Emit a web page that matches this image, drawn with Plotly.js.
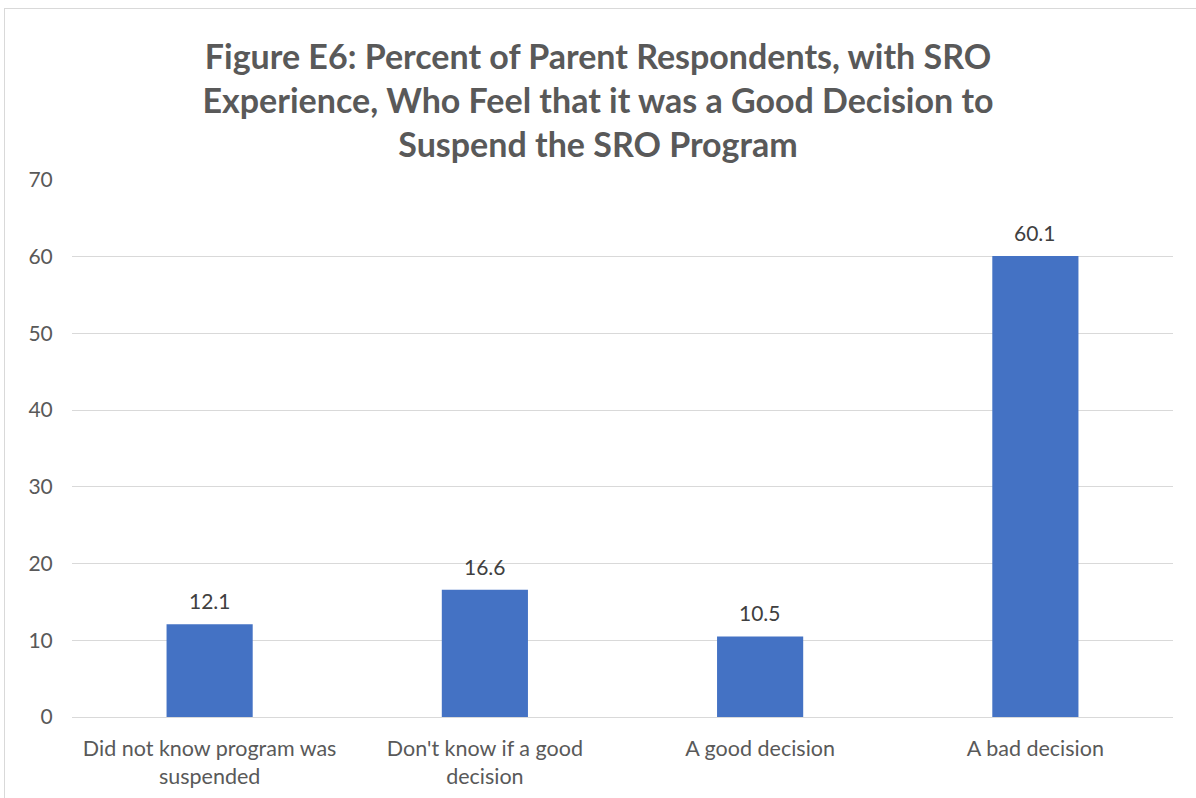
<!DOCTYPE html>
<html><head><meta charset="utf-8">
<script src="https://cdn.plot.ly/plotly-3.0.1.min.js"></script>
<style>
html,body{margin:0;padding:0;background:#fff;}
#frame{position:absolute;left:4px;top:8px;width:1300px;height:900px;border:1px solid #d9d9d9;box-sizing:border-box;pointer-events:none;}
#chart{position:absolute;left:0;top:0;width:1196px;height:798px;}
</style></head>
<body>
<div id="chart"></div>
<div id="frame"></div>
<script>
const categories = ["Did not know program was<br>suspended", "Don't know if a good<br>decision", "A good decision", "A bad decision"];
const values = [12.1, 16.6, 10.5, 60.1];
const valueLabels = ["12.1", "16.6", "10.5", "60.1"];
const yTicks = [0, 10, 20, 30, 40, 50, 60, 70];

const font = "Lato, 'Open Sans', sans-serif";
const labelAnnotations = categories.map((c, i) => ({
  x: c, y: values[i], xref: 'x', yref: 'y',
  text: valueLabels[i], showarrow: false,
  yanchor: 'bottom', yshift: 9,
  font: {family: font, size: 21, color: '#404040'}
}));

Plotly.newPlot('chart', [{
  type: 'bar',
  x: categories,
  y: values,
  marker: {color: '#4472C4'},
  hoverinfo: 'skip'
}], {
  width: 1196, height: 798,
  margin: {l: 72, r: 23, t: 180, b: 81},
  paper_bgcolor: '#fff', plot_bgcolor: '#fff',
  bargap: 0.687,
  showlegend: false,
  annotations: labelAnnotations,
  title: {
    text: 'Figure E6: Percent of Parent Respondents, with SRO<br>Experience, Who Feel that it was a Good Decision to<br>Suspend the SRO Program',
    font: {family: font, size: 34, color: '#595959', weight: 'bold'},
    x: 0.5, xanchor: 'center', y: 0.914, yanchor: 'top'
  },
  xaxis: {
    type: 'category',
    tickfont: {family: font, size: 21.5, color: '#595959'},
    ticks: 'outside', ticklen: 12, tickcolor: 'rgba(0,0,0,0)',
    showline: false, showgrid: false
  },
  yaxis: {
    range: [0, 70],
    tickvals: yTicks,
    tickfont: {family: font, size: 21, color: '#595959'},
    ticks: 'outside', ticklen: 14, tickcolor: 'rgba(0,0,0,0)',
    gridcolor: '#d9d9d9', gridwidth: 1,
    zeroline: true, zerolinecolor: '#d9d9d9', zerolinewidth: 1,
    showline: false
  }
}, {displayModeBar: false, staticPlot: true});
</script>
</body></html>
